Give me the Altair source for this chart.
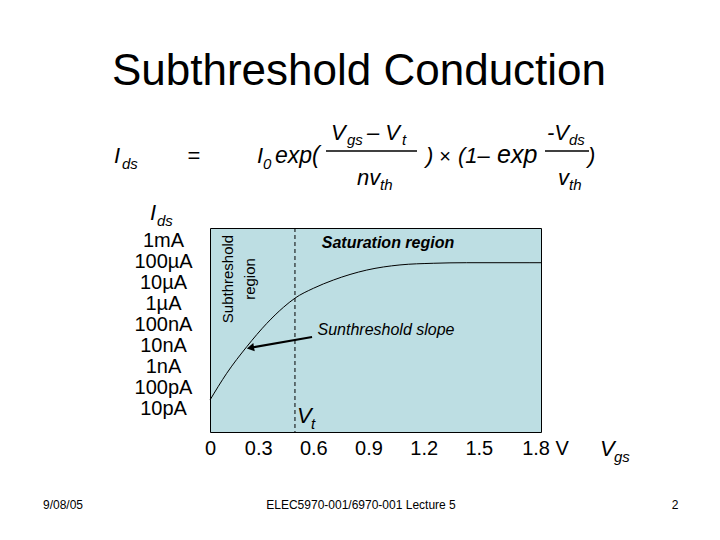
import altair as alt
import pandas as pd

# ---------------- data ----------------
vgs = [0.0, 0.091, 0.200, 0.309, 0.399, 0.462, 0.562, 0.671, 0.852, 1.033, 1.214, 1.396, 1.740, 1.800]
ids = [2.4e-11, 4.5e-10, 8.3e-9, 1.07e-7, 6.2e-7, 1.7e-6, 5.0e-6, 1.24e-5, 3.7e-5, 6.5e-5, 7.8e-5, 8.3e-5, 8.3e-5, 8.3e-5]

x_ticks = [0, 0.3, 0.6, 0.9, 1.2, 1.5, 1.8]
x_tick_labels = ["0", "0.3", "0.6", "0.9", "1.2", "1.5", "1.8 V"]
y_exponents = [-3, -4, -5, -6, -7, -8, -9, -10, -11]
y_tick_labels = ["1mA", "100µA", "10µA", "1µA", "100nA", "10nA", "1nA", "100pA", "10pA"]
y_ticks = [10.0 ** e for e in y_exponents]

vt = [0.462]
arrow_vgs = [0.555, 0.220]
arrow_ids = [2.4e-8, 7.4e-9]

x_domain = [0, 1.8]
y_domain = [7.2e-13, 3.73e-3]

# ---------------- layout ----------------
FONT = "Liberation Sans"
OX, OY = 210, 228          # page position of the plot area
W, H = 331, 204

x_scale = alt.Scale(domain=x_domain, nice=False, zero=False)
y_scale = alt.Scale(type="log", domain=y_domain, nice=False)

x_label_expr = " : ".join(
    f"abs(datum.value - {v}) < 0.001 ? '{l}'" for v, l in zip(x_ticks, x_tick_labels)
) + " : datum.label"
y_label_expr = " : ".join(
    f"round(log(datum.value)/LN10) == {e} ? '{l}'" for e, l in zip(y_exponents, y_tick_labels)
) + " : ''"

x_axis = alt.Axis(
    values=x_ticks, labelExpr=x_label_expr, title=None, grid=False, ticks=False, tickSize=0,
    domain=False, labelFont=FONT, labelFontSize=20, labelColor="black",
    labelBaseline="middle", labelPadding=16, labelFlush=False, labelOverlap=False,
    labelOffset={"condition": [{"test": "datum.value == 0", "value": 0},
                               {"test": "datum.value > 1.7", "value": 4}], "value": -7},
)
y_axis = alt.Axis(
    values=y_ticks, labelExpr=y_label_expr, title=None, grid=False, ticks=False, tickSize=0,
    domain=False, labelFont=FONT, labelFontSize=20, labelColor="black",
    labelAlign="center", labelBaseline="middle", labelPadding=47, labelOverlap=False,
    labelFlush=False,
)

curve_df = pd.DataFrame({"Vgs": vgs, "Ids": ids})
curve = alt.Chart(curve_df).mark_line(color="black", strokeWidth=1, interpolate="monotone").encode(
    x=alt.X("Vgs:Q", scale=x_scale, axis=x_axis),
    y=alt.Y("Ids:Q", scale=y_scale, axis=y_axis),
)

vt_line = alt.Chart(pd.DataFrame({"Vt": vt})).mark_rule(
    color="black", strokeWidth=1, strokeDash=[4, 3]
).encode(x=alt.X("Vt:Q", scale=x_scale))

arrow_df = pd.DataFrame({"x": [arrow_vgs[0]], "x2": [arrow_vgs[1]],
                         "y": [arrow_ids[0]], "y2": [arrow_ids[1]]})
arrow_line = alt.Chart(arrow_df).mark_rule(color="black", strokeWidth=2).encode(
    x=alt.X("x:Q", scale=x_scale), x2="x2:Q",
    y=alt.Y("y:Q", scale=y_scale), y2="y2:Q",
)
arrow_head = alt.Chart(pd.DataFrame({"x": [arrow_vgs[1]], "y": [arrow_ids[1]]})).mark_point(
    shape="triangle-left", filled=True, size=70, angle=350, color="black", opacity=1
).encode(x=alt.X("x:Q", scale=x_scale), y=alt.Y("y:Q", scale=y_scale))


def txt(text, x, y, size=22, style="normal", weight="normal", align="left",
        baseline="alphabetic", angle=0):
    return alt.Chart(pd.DataFrame({"t": [text]})).mark_text(
        align=align, baseline=baseline, fontSize=size, fontStyle=style,
        fontWeight=weight, font=FONT, angle=angle, color="black",
    ).encode(text="t:N", x=alt.value(x - OX), y=alt.value(y - OY))


def hbar(x1, x2, y):
    return alt.Chart(pd.DataFrame({"k": [0]})).mark_rule(color="black", strokeWidth=1.3).encode(
        x=alt.value(x1 - OX), x2=alt.value(x2 - OX), y=alt.value(y - OY)
    )


I = "italic"
texts = [
    txt("Subthreshold Conduction", 359, 85, size=44, align="center"),
    # equation
    txt("I", 114, 163, style=I), txt("ds", 122, 169, size=15, style=I),
    txt("=", 194, 163, align="center"),
    txt("I", 257, 163, style=I), txt("0", 263, 169, size=15, style=I),
    txt("exp(", 275, 163, size=23, style=I),
    txt("V", 331, 140, style=I), txt("gs", 347, 145, size=15, style=I),
    txt("– V", 367, 140, style=I), txt("t", 402, 145, size=15, style=I),
    hbar(326, 417, 151),
    txt("nv", 357, 185, style=I), txt("th", 380, 190, size=15, style=I),
    txt(")", 426, 163, style=I),
    txt("×", 445, 163, size=20, align="center"),
    txt("(1–", 458, 163, style=I),
    txt("exp", 497, 163, size=25, style=I),
    txt("-V", 547, 140, style=I), txt("ds", 569, 145, size=15, style=I),
    hbar(545, 589, 151),
    txt("v", 558, 185, style=I), txt("th", 569, 190, size=15, style=I),
    txt(")", 588, 163, style=I),
    # axis titles
    txt("I", 150, 220, style=I), txt("ds", 157, 226, size=15, style=I),
    txt("V", 600, 456, style=I), txt("gs", 614, 462, size=15, style=I),
    # in-plot annotations
    txt("Subthreshold", 228, 279, size=15, align="center", baseline="middle", angle=270),
    txt("region", 250, 279, size=15, align="center", baseline="middle", angle=270),
    txt("Saturation region", 388, 243, size=16, style=I, weight="bold",
        align="center", baseline="middle"),
    txt("Sunthreshold slope", 386, 330, size=16, style=I, align="center", baseline="middle"),
    txt("V", 297, 423, size=22, style=I), txt("t", 311, 429, size=15, style=I),
    # footer
    txt("9/08/05", 63, 509, size=12, align="center"),
    txt("ELEC5970-001/6970-001 Lecture 5", 361, 509, size=12, align="center"),
    txt("2", 675, 509, size=12, align="center"),
]

chart = alt.layer(curve, vt_line, arrow_line, arrow_head, *texts).properties(
    width=W, height=H,
    padding={"left": OX - 8, "top": OY - 8, "right": 160, "bottom": 90},
    autosize=alt.AutoSizeParams(type="none"),
    background="white",
).configure_view(fill="#BDDEE3", stroke="black", strokeWidth=1)

chart.save("out.html", embed_options={"renderer": "svg", "actions": False})
